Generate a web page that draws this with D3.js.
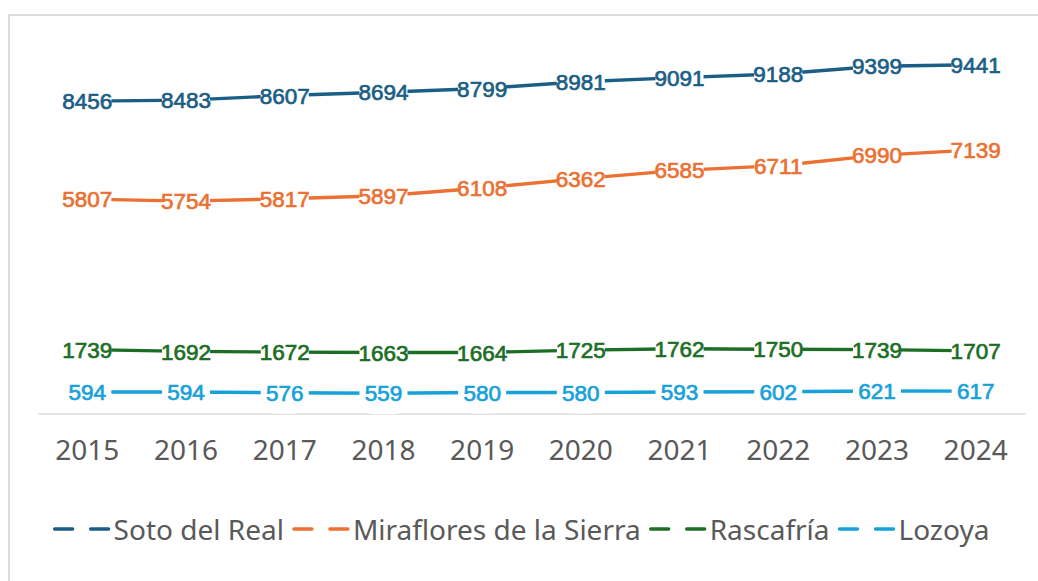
<!DOCTYPE html>
<html>
<head>
<meta charset="utf-8">
<script src="https://cdn.jsdelivr.net/npm/d3@7"></script>
<style>
  html, body { margin: 0; padding: 0; background: #ffffff; }
  svg { display: block; }
</style>
</head>
<body>
<svg id="chart" width="1038" height="581"></svg>
<script>
const years = ["2015","2016","2017","2018","2019","2020","2021","2022","2023","2024"];
const seriesNames = ["Soto del Real","Miraflores de la Sierra","Rascafría","Lozoya"];
const sotoDelReal = [8456,8483,8607,8694,8799,8981,9091,9188,9399,9441];
const mirafloresDeLaSierra = [5807,5754,5817,5897,6108,6362,6585,6711,6990,7139];
const rascafria = [1739,1692,1672,1663,1664,1725,1762,1750,1739,1707];
const lozoya = [594,594,576,559,580,580,593,602,621,617];
const colors = ["#1b5e85","#ec7032","#1c6e25","#17a1db"];

const seriesValues = [sotoDelReal, mirafloresDeLaSierra, rascafria, lozoya];
const series = seriesNames.map((name, i) => ({
  name, color: colors[i],
  values: years.map((yr, j) => ({year: yr, value: seriesValues[i][j]}))
}));

const svg = d3.select("#chart");

// frame
svg.append("rect")
  .attr("x", 9).attr("y", 15).attr("width", 1040).attr("height", 600)
  .attr("fill", "none").attr("stroke", "#dcdcdc").attr("stroke-width", 2);

const x = d3.scaleBand().domain(years).range([38, 1025]);
const y = d3.scaleLinear().domain([0, 10000]).range([414, 44]);
const cx = d => x(d.year) + x.bandwidth() / 2;

// x axis
const axisG = svg.append("g")
  .attr("transform", "translate(0,413.5)")
  .call(d3.axisBottom(x).tickSize(0).tickSizeOuter(0));
axisG.select(".domain").attr("stroke", "#d9d9d9").attr("stroke-width", 1.5);
axisG.selectAll("text")
  .attr("y", 46.5).attr("dy", null)
  .attr("fill", "#595959")
  .style("font-family", "'Noto Sans', sans-serif")
  .style("font-size", "28px");

// lines
const line = d3.line().x(cx).y(d => y(d.value));
svg.append("g").selectAll("path")
  .data(series).join("path")
  .attr("d", d => line(d.values))
  .attr("fill", "none")
  .attr("stroke", d => d.color)
  .attr("stroke-width", 3.4)
  .attr("stroke-linejoin", "round")
  .attr("stroke-linecap", "round");

// labels
const labelG = svg.append("g");
series.forEach(s => {
  const g = labelG.append("g").selectAll("g")
    .data(s.values).join("g")
    .attr("transform", d => `translate(${cx(d)},${y(d.value)})`);
  g.append("rect")
    .attr("x", -24).attr("y", -21).attr("width", 48).attr("height", 42)
    .attr("rx", 14).attr("fill", "#ffffff");
  g.append("text")
    .attr("text-anchor", "middle")
    .attr("dy", "0.36em")
    .attr("fill", s.color)
    .attr("stroke", s.color)
    .attr("stroke-width", 0.7)
    .style("font-family", "'Liberation Sans', Arial, sans-serif")
    .style("font-size", "22.5px")
    .text(d => d.value);
});

// legend
const legend = svg.append("g");
const legendY = 540;
const items = legend.selectAll("g").data(series).join("g");
items.append("text")
  .attr("x", 59).attr("y", legendY)
  .attr("fill", "#595959")
  .style("font-family", "'Noto Sans', sans-serif")
  .style("font-size", "28px")
  .text(d => d.name);
items.append("line")
  .attr("x1", 0).attr("x2", 18).attr("y1", legendY - 11).attr("y2", legendY - 11)
  .attr("stroke", d => d.color).attr("stroke-width", 3.4).attr("stroke-linecap", "round");
items.append("line")
  .attr("x1", 36).attr("x2", 54).attr("y1", legendY - 11).attr("y2", legendY - 11)
  .attr("stroke", d => d.color).attr("stroke-width", 3.4).attr("stroke-linecap", "round");
let widths = [];
items.each(function() {
  widths.push(59 + d3.select(this).select("text").node().getComputedTextLength());
});
const gap = 10;
const total = d3.sum(widths) + gap * (widths.length - 1);
let pos = 522 - total / 2;
items.attr("transform", (d, i) => {
  const t = `translate(${pos},0)`;
  pos += widths[i] + gap;
  return t;
});
</script>
</body>
</html>
